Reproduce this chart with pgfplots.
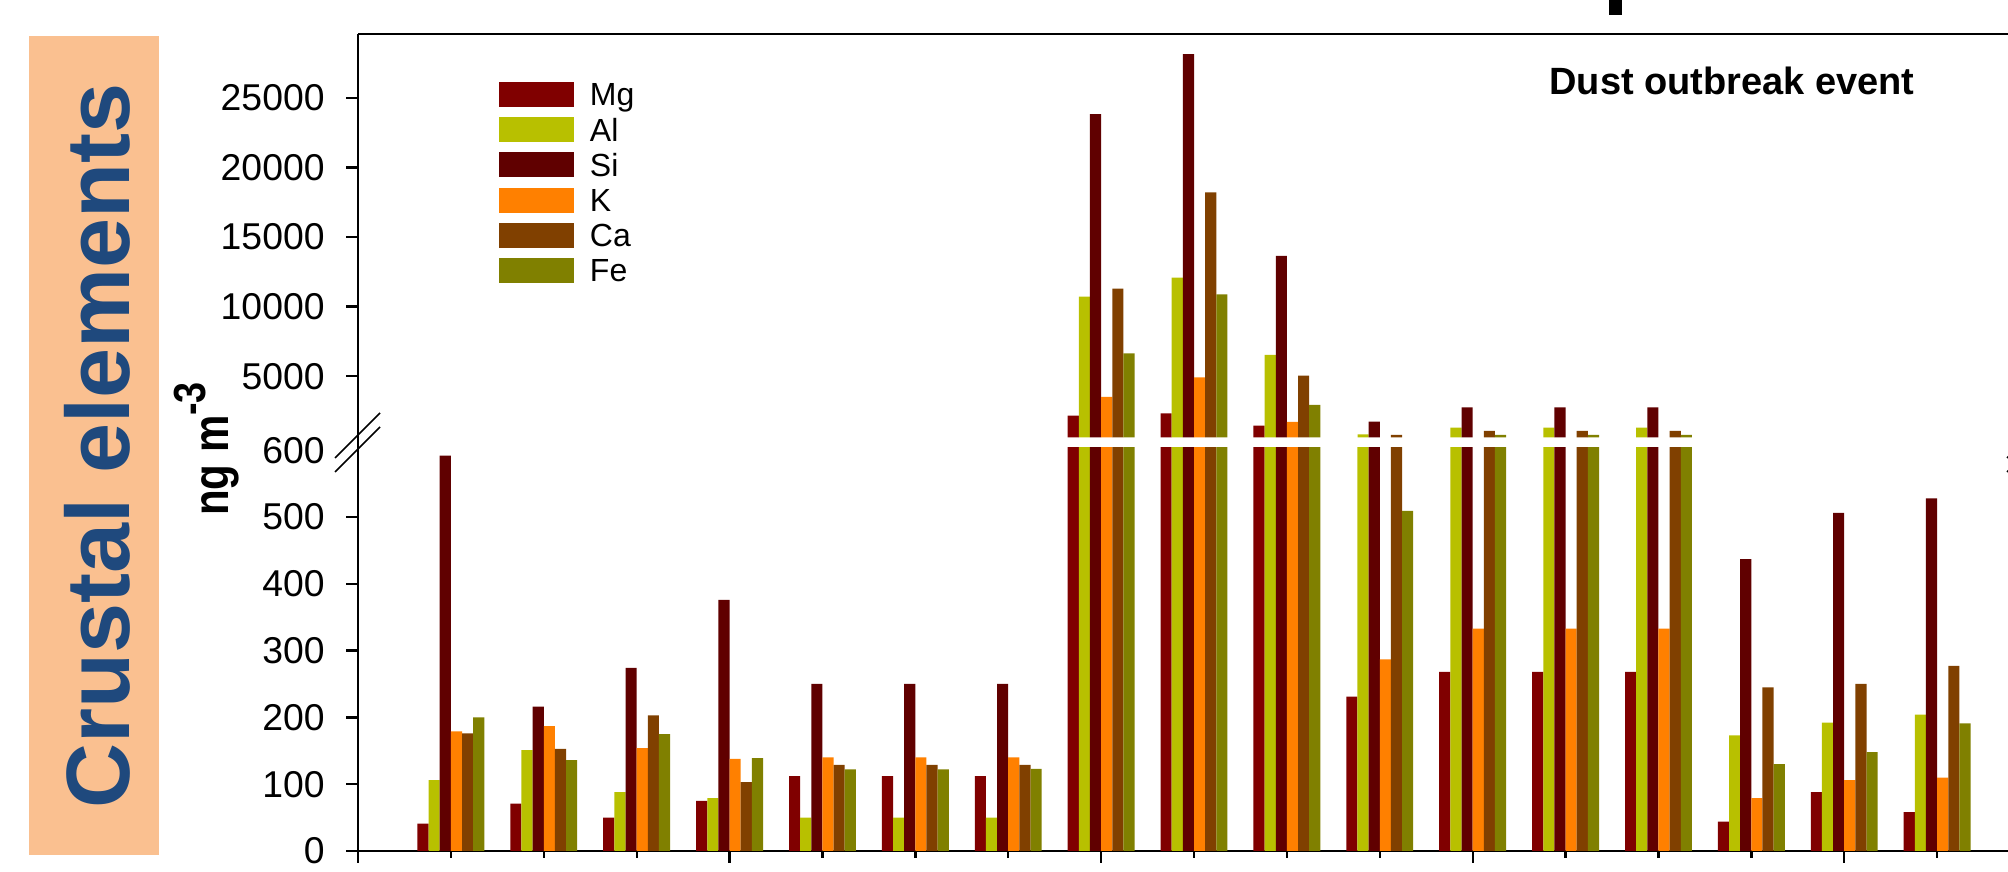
\documentclass[border=0pt]{standalone}
\usepackage{pgfplots}
\pgfplotsset{compat=1.18}
\usepackage{pgfplotstable}
\usepackage{fontspec}
\setmainfont{Liberation Sans}
\definecolor{cMg}{RGB}{128,0,0}
\definecolor{cAl}{RGB}{184,192,0}
\definecolor{cSi}{RGB}{96,0,0}
\definecolor{cK}{RGB}{255,128,0}
\definecolor{cCa}{RGB}{128,64,0}
\definecolor{cFe}{RGB}{128,128,0}
\definecolor{boxorange}{RGB}{250,192,144}
\definecolor{titleblue}{RGB}{31,73,125}

\pgfplotstableread{
x Mg Al Si K Ca Fe
1 41 106 592 179 176 200
2 71 151 216 187 153 136
3 50 88 274 154 203 175
4 75 79 376 138 103 139
5 112 50 250 140 129 122
6 112 50 250 140 129 122
7 112 50 250 140 129 123
8 2166 10715 23840 3509 11290 6649
9 2339 12080 28150 4925 18215 10888
10 1448 6527 13639 1713 5040 2935
11 231 830 1735 287 780 509
12 268 1304 2770 333 1067 780
13 268 1304 2770 333 1067 780
14 268 1304 2770 333 1067 780
15 44 173 437 79 245 130
16 88 192 506 106 250 148
17 58 204 528 110 277 191
}\crustal

\pgfplotsset{
  legimg/.style={legend image code/.code={\fill[##1] (0pt,-3.75pt) rectangle (22.5pt,3.75pt);}},
  mybar/.style={ybar, bar width=0.12, draw=none, legimg},
  common/.style={
    scale only axis, width=501.6pt, xmin=0, xmax=18,
    separate axis lines,
    axis line style={line width=0.7pt, -},
    tick style={line width=0.7pt, black},
    tick align=outside,
    major tick length=3.5pt, minor tick length=2.1pt,
    tick label style={font=\fontsize{11.2}{13}\selectfont},
    yticklabel style={xshift=-3pt},
    /pgf/number format/assume math mode=true,
    /pgf/number format/1000 sep={},
    scaled y ticks=false,
    anchor=south west,
  },
}
\newcommand{\crustalbars}{%
  \addplot[mybar, bar shift=-0.30, fill=cMg] table[x=x,y=Mg]{\crustal};
  \addplot[mybar, bar shift=-0.18, fill=cAl] table[x=x,y=Al]{\crustal};
  \addplot[mybar, bar shift=-0.06, fill=cSi] table[x=x,y=Si]{\crustal};
  \addplot[mybar, bar shift=0.06, fill=cK] table[x=x,y=K]{\crustal};
  \addplot[mybar, bar shift=0.18, fill=cCa] table[x=x,y=Ca]{\crustal};
  \addplot[mybar, bar shift=0.30, fill=cFe] table[x=x,y=Fe]{\crustal};
}

\begin{document}
\begin{tikzpicture}
\fill[boxorange] (8.7pt,5.1pt) rectangle (47.7pt,250.9pt);
\node[rotate=90, anchor=base, text=titleblue, font=\bfseries\fontsize{27}{30}\selectfont] at (38.85pt,127.8pt) {Crustal elements};
\node[rotate=90, anchor=base, inner sep=0pt] at (68.5pt,126.9pt)
  {\scalebox{0.84}[1]{\bfseries\fontsize{15}{17}\selectfont ng m\raisebox{7pt}{\fontsize{13.5}{15}\selectfont -3}}};

% upper part
\begin{axis}[common, at={(107.4pt,130.35pt)}, height=121.05pt,
  ymin=600, ymax=29590,
  restrict y to domain=600:100000,
  axis x line*=top, axis y line*=left,
  xtick=\empty, ytick={5000,10000,15000,20000,25000},
  legend style={at={(axis description cs:0.0843,0.881)}, anchor=north west,
    draw=none, fill=none, inner sep=0pt, outer sep=0pt,
    row sep=3.06pt, column sep=4.8pt,
    font=\fontsize{9.6}{11}\selectfont,
    nodes={inner sep=0pt, text height=6.9pt, text depth=0pt}},
  legend cell align=left]
\crustalbars
\legend{Mg,Al,Si,K,Ca,Fe}
\end{axis}

% lower part
\begin{axis}[common, at={(107.4pt,6.3pt)}, height=120.9pt,
  ymin=0, ymax=603.3,
  axis x line*=bottom, axis y line*=left,
  xtick={0,4,8,12,16}, xticklabels={,,,,,}, minor xtick={1,2,...,17},
  ytick={0,100,200,300,400,500},
  extra y ticks={600}, extra y tick style={major tick length=0pt, yticklabel style={xshift=-3.5pt}}]
\crustalbars
\end{axis}

\draw[line width=0.7pt] (107.4pt,6.3pt) -- (107.4pt,251.4pt);
\draw[line width=0.5pt] (100.5pt,124.2pt) -- (114pt,137.7pt);
\draw[line width=0.5pt] (100.5pt,120pt) -- (114pt,133.5pt);
\draw[line width=0.5pt] (602.1pt,124.2pt) -- (615.6pt,137.7pt);
\draw[line width=0.5pt] (602.1pt,120pt) -- (615.6pt,133.5pt);
\node[anchor=base, font=\bfseries\fontsize{11.4}{13}\selectfont] at (519.6pt,233.1pt) {Dust outbreak event};
\fill (482.7pt,257.1pt) rectangle (486.6pt,262pt);

\pgfresetboundingbox
\path[use as bounding box] (0,0) rectangle (602.4pt,261.6pt);
\end{tikzpicture}
\end{document}
